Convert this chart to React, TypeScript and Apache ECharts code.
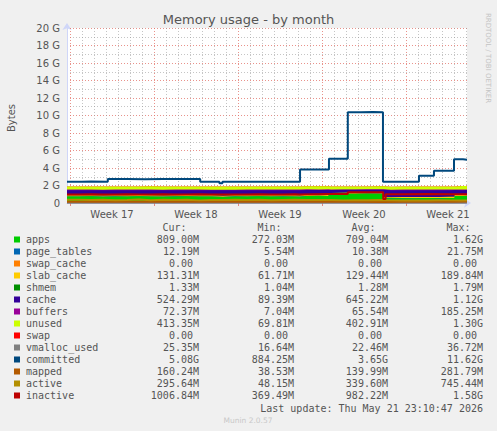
import React, { useEffect, useRef } from "react";
import * as echarts from "echarts";

// x values are days from the left edge of the plot (400 px = 33.33 days)
const DAYS = [0, 1, 2, 3, 4, 5, 6, 7, 8, 9, 10, 11, 12, 13, 14, 15, 16, 17, 18, 19, 19.4, 20, 21, 21.8, 22, 23, 24, 25, 26, 26.4, 27, 28, 29, 30, 31, 32, 32.3, 33, 33.33];

// stacked areas (GiB)
const APPS = [0.74, 0.76, 0.72, 0.75, 0.73, 0.77, 0.74, 0.72, 0.75, 0.76, 0.73, 0.74, 0.7, 0.75, 0.74, 0.76, 0.73, 0.75, 0.74, 0.72, 0.8, 0.82, 0.79, 1.02, 1.05, 1.06, 1.08, 1.07, 1.06, 0.55, 0.55, 0.54, 0.56, 0.55, 0.57, 0.56, 0.8, 0.81, 0.81];
const PAGE_TABLES = [0.01, 0.01, 0.011, 0.01, 0.01, 0.011, 0.01, 0.01, 0.01, 0.011, 0.01, 0.01, 0.01, 0.011, 0.01, 0.01, 0.01, 0.011, 0.01, 0.01, 0.01, 0.011, 0.01, 0.012, 0.012, 0.011, 0.012, 0.012, 0.011, 0.009, 0.01, 0.01, 0.011, 0.01, 0.01, 0.011, 0.012, 0.012, 0.012];
const SWAP_CACHE = [0, 0, 0, 0, 0, 0, 0, 0, 0, 0, 0, 0, 0, 0, 0, 0, 0, 0, 0, 0, 0, 0, 0, 0, 0, 0, 0, 0, 0, 0, 0, 0, 0, 0, 0, 0, 0, 0, 0];
const SLAB_CACHE = [0.13, 0.13, 0.12, 0.13, 0.14, 0.13, 0.13, 0.12, 0.13, 0.13, 0.14, 0.13, 0.13, 0.12, 0.13, 0.13, 0.14, 0.13, 0.13, 0.13, 0.13, 0.12, 0.13, 0.12, 0.12, 0.12, 0.12, 0.13, 0.12, 0.11, 0.13, 0.13, 0.12, 0.13, 0.13, 0.13, 0.13, 0.13, 0.131];
const SHMEM = [0.0013, 0.0013, 0.0013, 0.0013, 0.0013, 0.0013, 0.0013, 0.0013, 0.0013, 0.0013, 0.0013, 0.0013, 0.0013, 0.0013, 0.0013, 0.0013, 0.0013, 0.0013, 0.0013, 0.0013, 0.0013, 0.0013, 0.0013, 0.0013, 0.0013, 0.0013, 0.0013, 0.0013, 0.0013, 0.0013, 0.0013, 0.0013, 0.0013, 0.0013, 0.0013, 0.0013, 0.0013, 0.0013, 0.0013];
const CACHE = [0.58, 0.56, 0.6, 0.57, 0.58, 0.55, 0.58, 0.6, 0.57, 0.56, 0.58, 0.57, 0.61, 0.57, 0.58, 0.56, 0.59, 0.57, 0.58, 0.6, 0.55, 0.53, 0.56, 0.34, 0.32, 0.31, 0.3, 0.31, 0.32, 0.78, 0.78, 0.79, 0.77, 0.78, 0.76, 0.77, 0.52, 0.52, 0.524];
const BUFFERS = [0.07, 0.07, 0.07, 0.07, 0.07, 0.07, 0.07, 0.07, 0.07, 0.07, 0.07, 0.07, 0.07, 0.07, 0.07, 0.07, 0.07, 0.07, 0.07, 0.07, 0.07, 0.07, 0.07, 0.05, 0.05, 0.05, 0.05, 0.05, 0.05, 0.07, 0.07, 0.07, 0.07, 0.07, 0.07, 0.07, 0.072, 0.072, 0.072];
const UNUSED = [0.36, 0.36, 0.37, 0.35, 0.36, 0.36, 0.37, 0.36, 0.35, 0.36, 0.36, 0.37, 0.36, 0.35, 0.36, 0.36, 0.35, 0.36, 0.36, 0.36, 0.34, 0.35, 0.34, 0.33, 0.33, 0.34, 0.33, 0.33, 0.34, 0.35, 0.35, 0.35, 0.36, 0.35, 0.35, 0.35, 0.41, 0.41, 0.413];
const SWAP = [0, 0, 0, 0, 0, 0, 0, 0, 0, 0, 0, 0, 0, 0, 0, 0, 0, 0, 0, 0, 0, 0, 0, 0, 0, 0, 0, 0, 0, 0, 0, 0, 0, 0, 0, 0, 0, 0, 0];

// lines: [day, GiB]
const VMALLOC_USED: [number, number][] = [[0, 0.021], [7, 0.022], [14, 0.022], [21, 0.023], [28, 0.022], [33.33, 0.025]];
const COMMITTED: [number, number][] = [[0, 2.44], [1.2, 2.46], [2.0, 2.43], [3.4, 2.74], [5, 2.72], [6.5, 2.75], [8, 2.73], [9.5, 2.75], [11.1, 2.43], [12.7, 2.25], [12.95, 2.43], [16, 2.44], [19.42, 3.82], [21.83, 5.07], [23.4, 10.36], [24.5, 10.4], [25.5, 10.37], [26.33, 2.43], [29.33, 3.12], [30.58, 3.69], [32.25, 5.0], [33.0, 4.95], [33.33, 4.95]];
const MAPPED: [number, number][] = [[0, 0.14], [2, 0.13], [4, 0.15], [6, 0.14], [8, 0.13], [10, 0.14], [12, 0.15], [14, 0.14], [16, 0.13], [18, 0.14], [19.4, 0.15], [21.8, 0.13], [24, 0.12], [26.4, 0.14], [28, 0.15], [30, 0.14], [32.3, 0.16], [33.33, 0.16]];
const ACTIVE: [number, number][] = [[0, 0.36], [1, 0.33], [2, 0.38], [3, 0.31], [4, 0.35], [5, 0.4], [6, 0.32], [7, 0.36], [8, 0.34], [9, 0.37], [10, 0.3], [11, 0.35], [12, 0.33], [13, 0.38], [14, 0.34], [15, 0.36], [16, 0.32], [17, 0.35], [18, 0.37], [19, 0.33], [20, 0.35], [21, 0.34], [22, 0.3], [23, 0.32], [24, 0.31], [25, 0.33], [26, 0.3], [27, 0.28], [28, 0.3], [29, 0.29], [30, 0.31], [31, 0.3], [32, 0.29], [33, 0.3], [33.33, 0.3]];
const INACTIVE: [number, number][] = [[0, 0.98], [1, 0.99], [2, 0.97], [3, 0.98], [4, 1.0], [5, 0.97], [6, 0.98], [7, 0.99], [8, 0.96], [9, 0.98], [10, 0.99], [11, 0.97], [12, 0.98], [13, 0.96], [14, 0.98], [15, 0.99], [16, 0.97], [17, 0.98], [18, 0.99], [19, 0.97], [19.4, 1.02], [21.8, 1.04], [23.4, 1.24], [26.35, 0.45], [26.55, 1.0], [28, 1.02], [30, 1.01], [32.3, 1.0], [33.33, 1.0]];

// axes
const WEEK_LABELS = ["Week 17", "Week 18", "Week 19", "Week 20", "Week 21"];
const WEEK_LABEL_POS = [3.75, 10.75, 17.75, 24.75, 31.75];
const WEEK_BOUNDS = [0.25, 7.25, 14.25, 21.25, 28.25];
const X_MAX = 33.333;
const Y_MAX = 20;
const Y_STEP = 2;

// legend table
const NAMES = ["apps", "page_tables", "swap_cache", "slab_cache", "shmem", "cache", "buffers", "unused", "swap", "vmalloc_used", "committed", "mapped", "active", "inactive"];
const COLORS = ["#00CC00", "#0066B3", "#FF8000", "#FFCC00", "#008F00", "#330099", "#990099", "#CCFF00", "#FF0000", "#808080", "#00487D", "#B35A00", "#B38F00", "#BD0000"];
const CUR = ["809.00M", "12.19M", "0.00", "131.31M", "1.33M", "524.29M", "72.37M", "413.35M", "0.00", "25.35M", "5.08G", "160.24M", "295.64M", "1006.84M"];
const MIN = ["272.03M", "5.54M", "0.00", "61.71M", "1.04M", "89.39M", "7.04M", "69.81M", "0.00", "16.64M", "884.25M", "38.53M", "48.15M", "369.49M"];
const AVG = ["709.04M", "10.38M", "0.00", "129.44M", "1.28M", "645.22M", "65.54M", "402.91M", "0.00", "22.46M", "3.65G", "139.99M", "339.60M", "982.22M"];
const MAX = ["1.62G", "21.75M", "0.00", "189.84M", "1.79M", "1.12G", "185.25M", "1.30G", "0.00", "36.72M", "11.62G", "281.79M", "745.44M", "1.58G"];
const HEADERS = ["Cur:", "Min:", "Avg:", "Max:"];

const STACKED = [APPS, PAGE_TABLES, SWAP_CACHE, SLAB_CACHE, SHMEM, CACHE, BUFFERS, UNUSED, SWAP];
const LINES = [VMALLOC_USED, COMMITTED, MAPPED, ACTIVE, INACTIVE];

const MONO = '"DejaVu Sans Mono", monospace';
const SANS = '"DejaVu Sans", sans-serif';
const TXT = "#555555";

export default function App() {
  const ref = useRef<HTMLDivElement>(null);
  useEffect(() => {
    if (!ref.current) return;
    const chart = echarts.init(ref.current, undefined, { renderer: "svg" });

    const dayLines: any[] = [];
    for (let k = 0; k < 34; k++) {
      const d = 0.25 + k;
      if (d > X_MAX) break;
      const isWeek = WEEK_BOUNDS.some((w) => Math.abs(w - d) < 1e-6);
      dayLines.push({
        xAxis: d,
        lineStyle: isWeek
          ? { color: "rgba(225,110,100,0.75)", type: [1, 2], width: 1 }
          : { color: "rgba(150,150,150,0.55)", type: [1, 2], width: 1 },
      });
    }

    const series: any[] = [
      {
        name: "grid",
        type: "line",
        data: [[0, 0]],
        symbol: "none",
        lineStyle: { opacity: 0 },
        z: 1,
        silent: true,
        markLine: {
          silent: true,
          z: 1,
          symbol: ["none", "none"],
          label: { show: false },
          data: dayLines,
        },
      },
    ];

    // stacked layers: running totals, drawn top layer first so lower layers paint over
    const tops: number[][] = [];
    STACKED.forEach((arr, i) => {
      tops.push(arr.map((v, j) => v + (i > 0 ? tops[i - 1][j] : 0)));
    });
    for (let i = STACKED.length - 1; i >= 0; i--) {
      series.push({
        name: NAMES[i],
        type: "line",
        step: "end",
        symbol: "none",
        z: 2,
        lineStyle: { width: 0 },
        areaStyle: { color: COLORS[i], opacity: 1, origin: "start" },
        data: DAYS.map((d, j) => [d, tops[i][j]]),
      });
    }
    LINES.forEach((arr, i) => {
      series.push({
        name: NAMES[9 + i],
        type: "line",
        step: "end",
        symbol: "none",
        z: 3,
        lineStyle: { width: 2, color: COLORS[9 + i] },
        data: arr,
      });
    });

    const graphic: any[] = [];
    graphic.push({ type: "text", x: 248.5, y: 19, style: { text: "Memory usage - by month", font: `13px ${SANS}`, fill: TXT, textAlign: "center", verticalAlign: "middle" } });
    graphic.push({ type: "text", x: 11, y: 118, rotation: Math.PI / 2, style: { text: "Bytes", font: `10px ${SANS}`, fill: TXT, textAlign: "center", verticalAlign: "middle" } });
    graphic.push({ type: "text", x: 487.5, y: 58, rotation: -Math.PI / 2, style: { text: "RRDTOOL / TOBI OETIKER", font: `7px ${SANS}`, fill: "#c4c4c4", textAlign: "center", verticalAlign: "middle" } });

    const colRight = [199, 294, 388, 483];
    HEADERS.forEach((h, c) => {
      graphic.push({ type: "text", x: colRight[c] - 12.5, y: 227.5, style: { text: h, font: `10px ${MONO}`, fill: TXT, textAlign: "right", verticalAlign: "middle" } });
    });
    NAMES.forEach((n, i) => {
      const y = 239.5 + i * 12;
      graphic.push({ type: "rect", shape: { x: 14, y: y - 3, width: 6, height: 6 }, style: { fill: COLORS[i] } });
      graphic.push({ type: "text", x: 26, y, style: { text: n, font: `10px ${MONO}`, fill: TXT, textAlign: "left", verticalAlign: "middle" } });
      [CUR, MIN, AVG, MAX].forEach((col, c) => {
        const v = col[i];
        const noUnit = /[0-9]$/.test(v);
        graphic.push({ type: "text", x: colRight[c] - (noUnit ? 6 : 0), y, style: { text: v, font: `10px ${MONO}`, fill: TXT, textAlign: "right", verticalAlign: "middle" } });
      });
    });
    graphic.push({ type: "text", x: 483, y: 408, style: { text: "Last update: Thu May 21 23:10:47 2026", font: `10px ${MONO}`, fill: TXT, textAlign: "right", verticalAlign: "middle" } });
    graphic.push({ type: "text", x: 248, y: 420, style: { text: "Munin 2.0.57", font: `7.5px ${SANS}`, fill: "#c8c8c8", textAlign: "center", verticalAlign: "middle" } });

    chart.setOption({
      animation: false,
      backgroundColor: "#F0F0F0",
      grid: { left: 67, top: 28, width: 400, height: 175, show: true, backgroundColor: "#FFFFFF", borderWidth: 0 },
      xAxis: {
        type: "value",
        min: 0,
        max: X_MAX,
        splitLine: { show: false },
        axisLine: { show: true, lineStyle: { color: "#CFD6F8", width: 1 }, symbol: ["none", "arrow"], symbolSize: [7, 7], symbolOffset: [0, 4] },
        axisTick: { show: true, customValues: WEEK_BOUNDS, length: 3, lineStyle: { color: "rgba(225,110,100,0.8)" } },
        axisLabel: {
          show: true,
          customValues: WEEK_LABEL_POS,
          margin: 6,
          color: TXT,
          fontFamily: SANS,
          fontSize: 10,
          formatter: (v: number) => {
            const idx = WEEK_LABEL_POS.findIndex((p) => Math.abs(p - v) < 0.01);
            return idx >= 0 ? WEEK_LABELS[idx] : "";
          },
        },
      },
      yAxis: {
        type: "value",
        min: 0,
        max: Y_MAX,
        interval: Y_STEP,
        axisLine: { show: true, lineStyle: { color: "#CFD6F8", width: 1 }, symbol: ["none", "arrow"], symbolSize: [7, 7], symbolOffset: [0, 5] },
        axisTick: { show: false },
        axisLabel: { color: TXT, fontFamily: SANS, fontSize: 10, margin: 7, formatter: (v: number) => (v === 0 ? "0" : `${v} G`) },
        splitLine: { show: true, lineStyle: { color: "rgba(225,110,100,0.75)", type: [1, 2], width: 1 } },
        minorTick: { show: false, splitNumber: 2 },
        minorSplitLine: { show: true, lineStyle: { color: "rgba(150,150,150,0.55)", type: [1, 2], width: 1 } },
      },
      series,
      graphic,
    });
    return () => chart.dispose();
  }, []);
  return <div ref={ref} style={{ position: "absolute", left: 0, top: 0, width: 497, height: 431 }} />;
}
